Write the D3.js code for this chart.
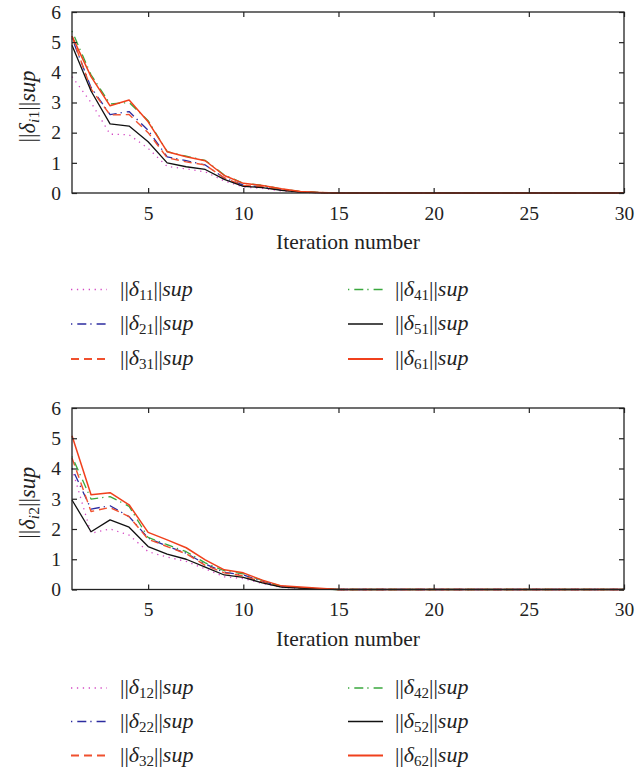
<!DOCTYPE html>
<html><head><meta charset="utf-8">
<script src="https://cdn.jsdelivr.net/npm/d3@7"></script>
<style>
html,body{margin:0;padding:0;background:#fff;}
svg{display:block;}
svg text{font-family:"Liberation Serif","Times New Roman",Times,serif;fill:#222;}
</style></head>
<body>
<svg id="chart" width="635" height="769"></svg>
<script>
const iterations = [1,2,3,4,5,6,7,8,9,10,11,12,13,14,15,16,17,18,19,20,21,22,23,24,25,26,27,28,29,30];
const xTicks = [5,10,15,20,25,30];
const yTicks = [0,1,2,3,4,5,6];

// Panel 1 (delta_i1)
const d11 = [3.86,3.0,1.95,1.93,1.48,0.88,0.8,0.7,0.4,0.2,0.15,0.07,0.02,0.01,0,0,0,0,0,0,0,0,0,0,0,0,0,0,0,0];
const d21 = [5.13,3.5,2.6,2.7,2.08,1.2,1.07,0.93,0.5,0.26,0.2,0.1,0.04,0.01,0,0,0,0,0,0,0,0,0,0,0,0,0,0,0,0];
const d31 = [5.2,3.45,2.59,2.6,2.0,1.17,1.03,0.93,0.5,0.25,0.2,0.1,0.04,0.01,0,0,0,0,0,0,0,0,0,0,0,0,0,0,0,0];
const d41 = [5.37,3.92,2.95,3.0,2.4,1.37,1.22,1.08,0.6,0.32,0.26,0.13,0.05,0.02,0,0,0,0,0,0,0,0,0,0,0,0,0,0,0,0];
const d51 = [4.9,3.38,2.29,2.22,1.7,1.0,0.87,0.78,0.45,0.22,0.18,0.09,0.03,0.01,0,0,0,0,0,0,0,0,0,0,0,0,0,0,0,0];
const d61 = [5.2,3.86,2.89,3.08,2.36,1.37,1.2,1.07,0.58,0.32,0.25,0.14,0.05,0.02,0,0,0,0,0,0,0,0,0,0,0,0,0,0,0,0];

// Panel 2 (delta_i2)
const d12 = [4.0,1.86,2.0,1.8,1.25,1.07,0.93,0.68,0.42,0.36,0.2,0.07,0.04,0.01,0,0,0,0,0,0,0,0,0,0,0,0,0,0,0,0];
const d22 = [4.01,2.66,2.77,2.41,1.7,1.43,1.2,0.84,0.57,0.48,0.27,0.1,0.05,0.02,0,0,0,0,0,0,0,0,0,0,0,0,0,0,0,0];
const d32 = [4.35,2.58,2.71,2.41,1.66,1.42,1.18,0.8,0.55,0.45,0.25,0.09,0.05,0.02,0,0,0,0,0,0,0,0,0,0,0,0,0,0,0,0];
const d42 = [4.4,2.99,3.07,2.75,1.72,1.48,1.25,0.88,0.62,0.52,0.3,0.11,0.06,0.02,0,0,0,0,0,0,0,0,0,0,0,0,0,0,0,0];
const d52 = [2.96,1.91,2.3,2.06,1.42,1.17,1.0,0.74,0.48,0.4,0.22,0.08,0.05,0.02,0,0,0,0,0,0,0,0,0,0,0,0,0,0,0,0];
const d62 = [5.08,3.13,3.2,2.8,1.89,1.64,1.38,0.98,0.65,0.55,0.31,0.12,0.08,0.04,0,0,0,0,0,0,0,0,0,0,0,0,0,0,0,0];

const seriesSub1 = ["11","21","31","41","51","61"];
const seriesSub2 = ["12","22","32","42","52","62"];
const xLabel = "Iteration number";

const styles = [
  {color:"#d44bc4", dash:"1.3,4.6", width:1.3},
  {color:"#2c2ca0", dash:"1.3,5,9,4", width:1.3},
  {color:"#f0502e", dash:"8,5", width:1.4},
  {color:"#3aa83e", dash:"1.3,5,9,4", width:1.3},
  {color:"#111111", dash:null, width:1.3},
  {color:"#f0401c", dash:null, width:1.5}
];

const svg = d3.select("#chart");

function panel(top, bottom, data, subs, ySub) {
  const x = d3.scaleLinear().domain([1,30]).range([72,624]);
  const y = d3.scaleLinear().domain([0,6]).range([bottom, top]);
  const g = svg.append("g");

  const line = d3.line().x((d,i)=>x(iterations[i])).y(d=>y(d));
  data.forEach((s,k)=>{
    const st = styles[k];
    g.append("path").attr("d", line(s)).attr("fill","none")
      .attr("stroke", st.color).attr("stroke-width", st.width)
      .attr("stroke-dasharray", st.dash).attr("stroke-linejoin","round");
  });

  g.append("rect").attr("x",x(1)).attr("y",y(6)).attr("width",x(30)-x(1)).attr("height",y(0)-y(6))
    .attr("fill","none").attr("stroke","#222").attr("stroke-width",1.3);

  const ax = g.append("g").attr("transform",`translate(0,${y(0)})`)
    .call(d3.axisBottom(x).tickValues(xTicks).tickSizeInner(-5).tickSizeOuter(0).tickPadding(13).tickFormat(d3.format("d")));
  const axT = g.append("g").attr("transform",`translate(0,${y(6)})`)
    .call(d3.axisTop(x).tickValues(xTicks).tickSizeInner(-5).tickSizeOuter(0).tickFormat(""));
  const ay = g.append("g").attr("transform",`translate(${x(1)},0)`)
    .call(d3.axisLeft(y).tickValues(yTicks).tickSizeInner(-5).tickSizeOuter(0).tickPadding(11).tickFormat(d3.format("d")));
  const ayR = g.append("g").attr("transform",`translate(${x(30)},0)`)
    .call(d3.axisRight(y).tickValues(yTicks).tickSizeInner(-5).tickSizeOuter(0).tickFormat(""));
  [ax,axT,ay,ayR].forEach(a=>{
    a.attr("font-family",null);
    a.select(".domain").remove();
    a.selectAll(".tick line").attr("stroke","#222").attr("stroke-width",1.2);
    a.selectAll(".tick text").attr("font-size",19.5).attr("fill","#222");
  });

  g.append("text").attr("x",(x(1)+x(30))/2).attr("y",bottom+56).attr("text-anchor","middle")
    .attr("font-size",21.5).text(xLabel);

  const yl = g.append("text").attr("transform",`translate(35,${(top+bottom)/2+4}) rotate(-90)`)
    .attr("text-anchor","middle").attr("font-size",22.5);
  yl.append("tspan").text("||");
  yl.append("tspan").attr("font-style","italic").text("δ");
  yl.append("tspan").attr("font-style","italic").attr("font-size",15.5).attr("dy",4).text("i");
  yl.append("tspan").attr("font-size",15.5).text(ySub);
  yl.append("tspan").attr("dy",-4).text("||");
  yl.append("tspan").attr("font-style","italic").text("sup");

  return {x,y};
}

function legend(rowY, subs) {
  const cols = [[71,107,120],[348,383,395]];
  subs.forEach((sub,k)=>{
    const c = cols[Math.floor(k/3)];
    const yy = rowY[k%3];
    const st = styles[k];
    svg.append("line").attr("x1",c[0]).attr("x2",c[1]).attr("y1",yy).attr("y2",yy)
      .attr("stroke",st.color).attr("stroke-width",st.width+0.4).attr("stroke-dasharray",st.dash);
    const t = svg.append("text").attr("x",c[2]).attr("y",yy+6).attr("font-size",22);
    t.append("tspan").text("||");
    t.append("tspan").attr("font-style","italic").text("δ");
    t.append("tspan").attr("font-size",15).attr("dy",4).text(sub);
    t.append("tspan").attr("dy",-4).text("||");
    t.append("tspan").attr("font-style","italic").text("sup");
  });
}

panel(12, 193, [d11,d21,d31,d41,d51,d61], seriesSub1, "1");
legend([289.5,324,359], seriesSub1);
panel(408, 589.5, [d12,d22,d32,d42,d52,d62], seriesSub2, "2");
legend([688,721.5,755.5], seriesSub2);
</script>
</body></html>
